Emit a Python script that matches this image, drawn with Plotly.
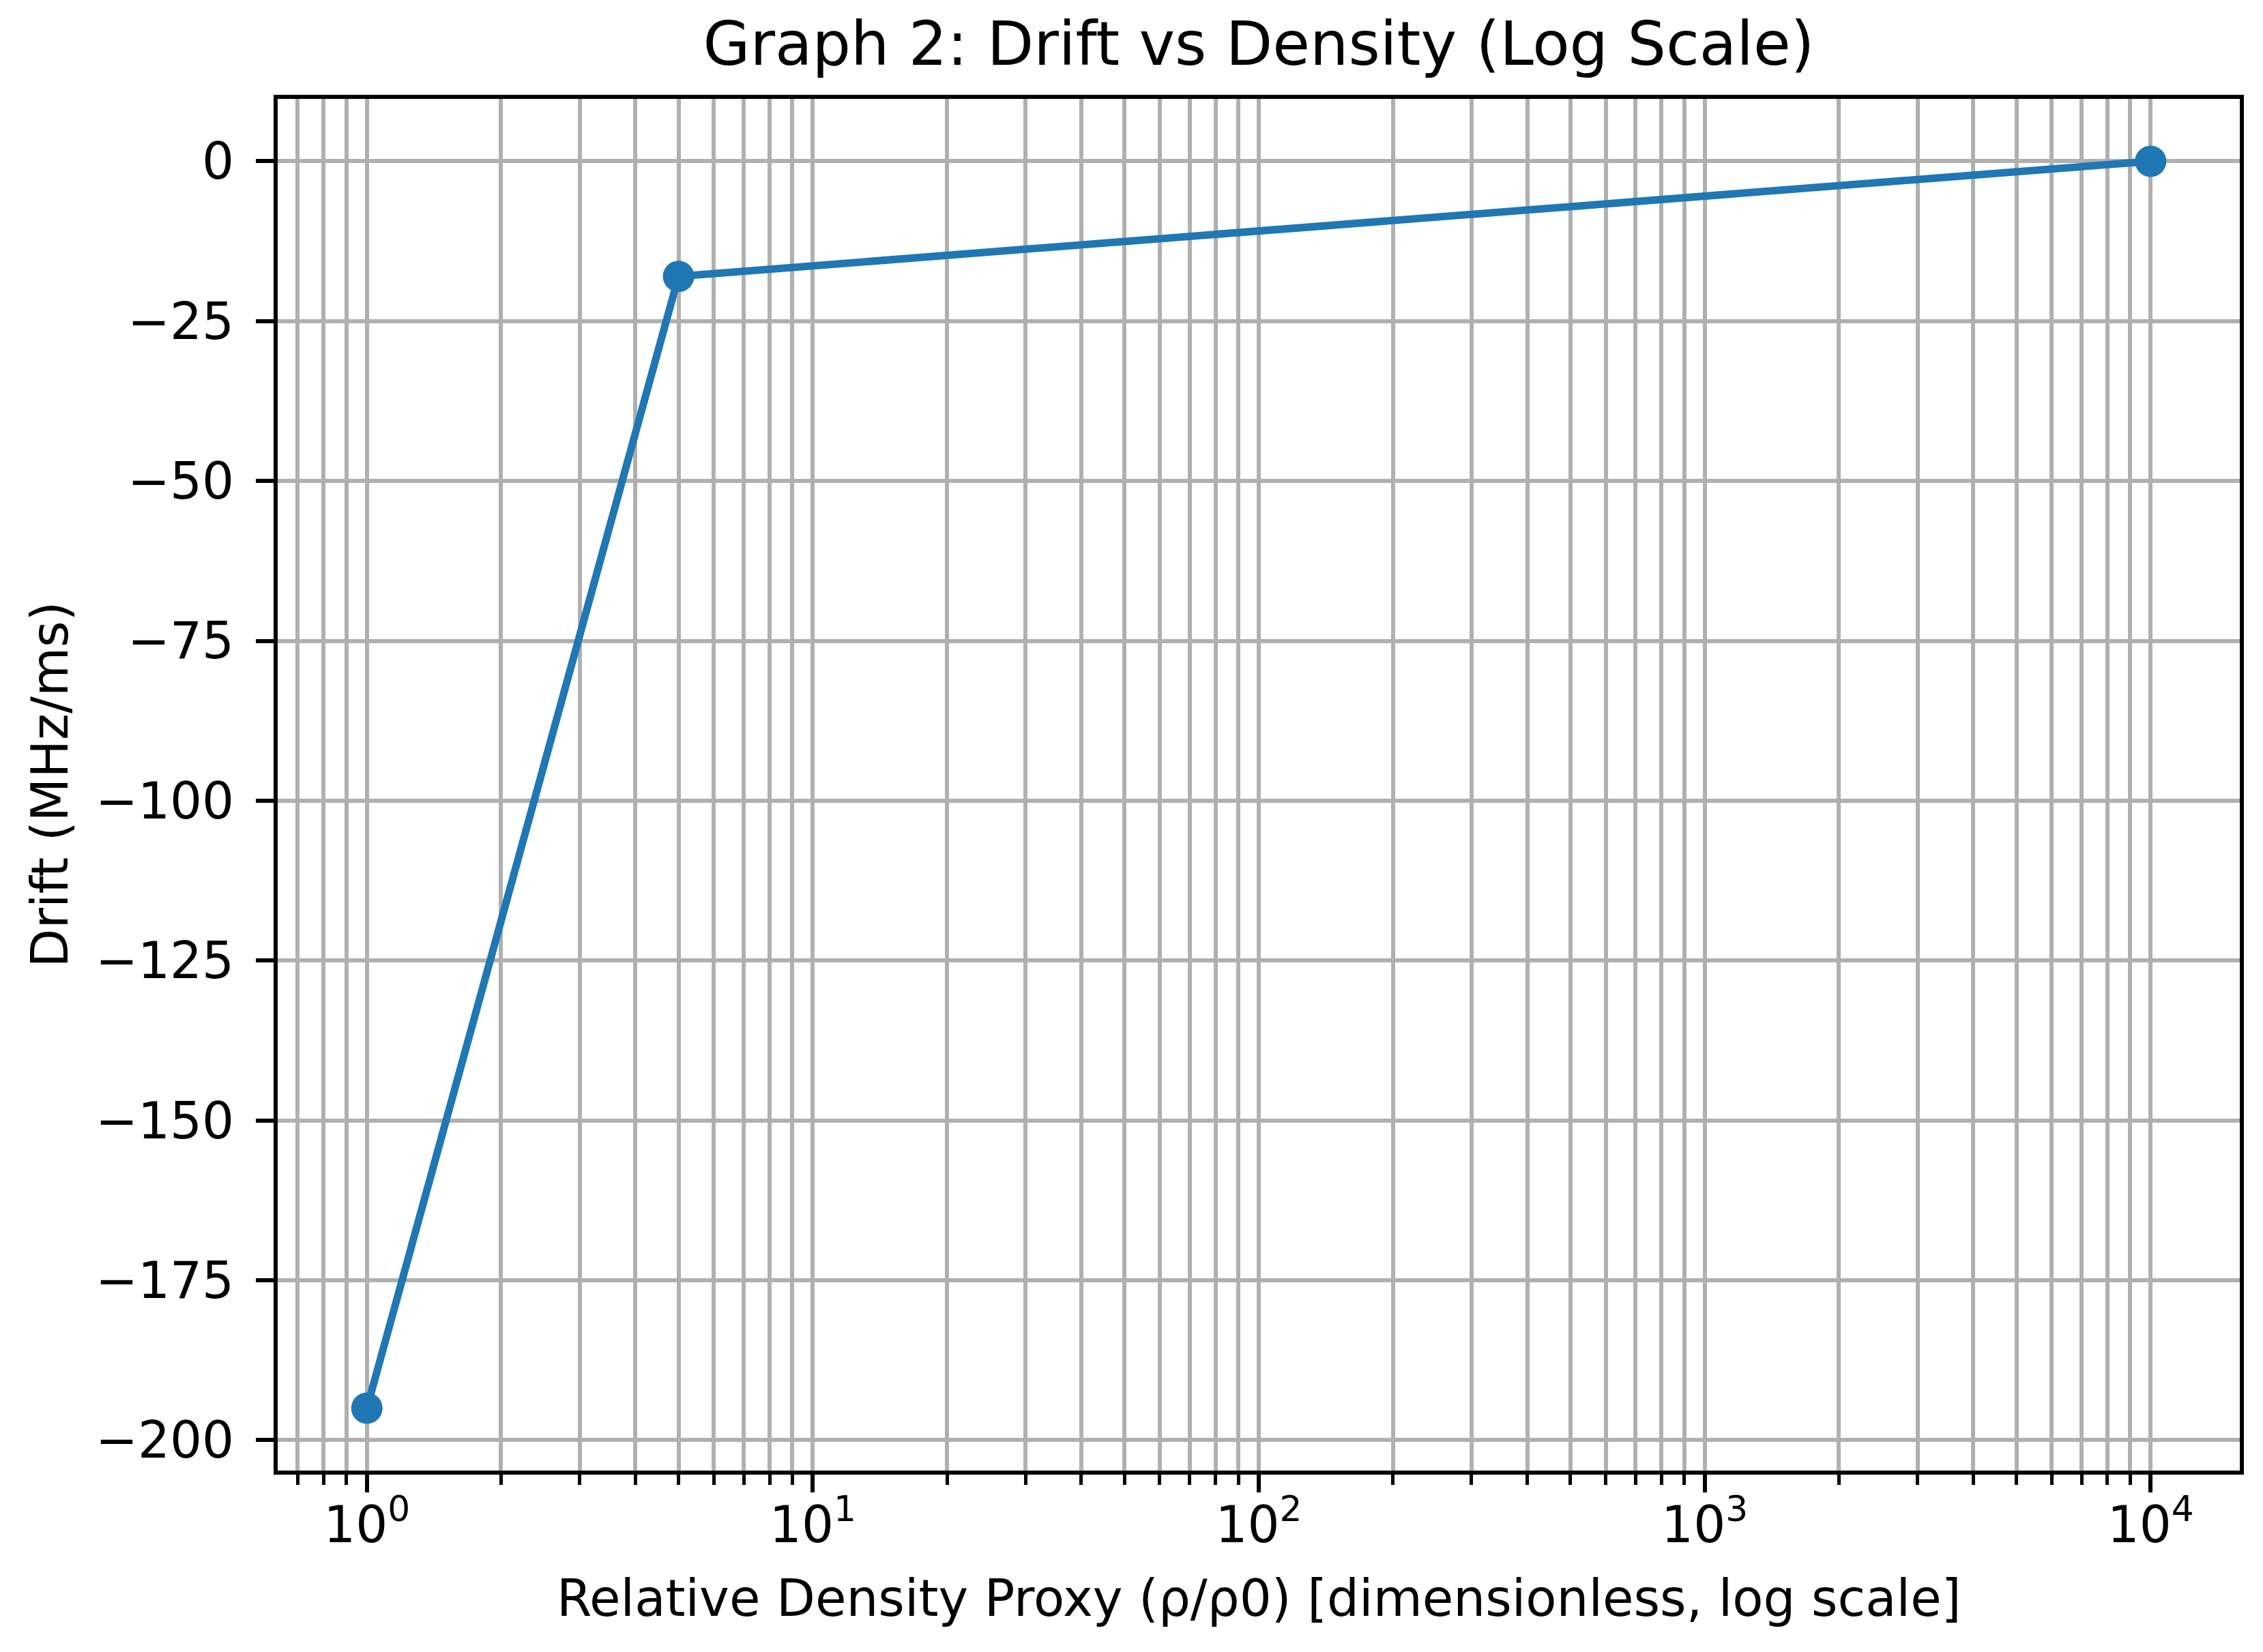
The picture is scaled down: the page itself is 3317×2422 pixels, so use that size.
import plotly.graph_objects as go
import math

# Data
density = [1, 5, 10000]
drift = [-195, -18, 0]

y_ticks = [0, -25, -50, -75, -100, -125, -150, -175, -200]
y_ticktext = ["0" if v == 0 else "\u2212" + str(abs(v)) for v in y_ticks]
x_ticks = [1, 10, 100, 1000, 10000]
x_ticktext = ["10<sup>0</sup>", "10<sup>1</sup>", "10<sup>2</sup>", "10<sup>3</sup>", "10<sup>4</sup>"]

title = "Graph 2: Drift vs Density (Log Scale)"
xlabel = "Relative Density Proxy (\u03c1/\u03c10) [dimensionless, log scale]"
ylabel = "Drift (MHz/ms)"

W, H = 3317, 2422
L, R, T, B = 399, 42, 137, 274
FONT = "DejaVu Sans"
FS = 74

# log ranges with 5% margins (matplotlib style)
lx = [math.log10(v) for v in density]
dx = (max(lx) - min(lx)) * 0.05
xr = [min(lx) - dx, max(lx) + dx]
dy = (max(drift) - min(drift)) * 0.05
yr = [min(drift) - dy, max(drift) + dy]

minor_vals = []
for e in range(-1, 5):
    for m in range(2, 10):
        v = m * 10 ** e
        if xr[0] <= math.log10(v) <= xr[1]:
            minor_vals.append(v)

fig = go.Figure()
fig.add_trace(go.Scatter(
    x=density, y=drift, mode="lines+markers",
    line=dict(color="#1f77b4", width=11),
    marker=dict(color="#1f77b4", size=46),
    showlegend=False,
))

fig.update_layout(
    width=W, height=H,
    margin=dict(l=L, r=R, t=T, b=B),
    paper_bgcolor="white", plot_bgcolor="white",
    font=dict(family=FONT, size=FS, color="black"),
    title=dict(text=title, x=(L + (W - R)) / 2 / W, xanchor="center",
               y=1 - 56 / H, yanchor="middle", yref="container",
               font=dict(family=FONT, size=89, color="black")),
    xaxis=dict(
        type="log", range=xr,
        tickmode="array", tickvals=x_ticks, ticktext=x_ticktext,
        ticks="outside", ticklen=26, tickwidth=6, tickcolor="black",
        showgrid=True, gridcolor="#b0b0b0", gridwidth=6,
        showline=True, linecolor="black", linewidth=6, mirror=True,
        zeroline=False, ticklabelstandoff=-16,
        tickfont=dict(family=FONT, size=FS, color="black"),
        minor=dict(tickmode="array", tickvals=minor_vals, ticks="outside",
                   ticklen=15, tickwidth=4.5, tickcolor="black",
                   showgrid=True, gridcolor="#b0b0b0", gridwidth=6),
    ),
    yaxis=dict(
        range=yr,
        tickmode="array", tickvals=y_ticks, ticktext=y_ticktext,
        ticks="outside", ticklen=26, tickwidth=6, tickcolor="black",
        showgrid=True, gridcolor="#b0b0b0", gridwidth=6,
        showline=True, linecolor="black", linewidth=6, mirror=True,
        zeroline=False, ticklabelstandoff=17,
        tickfont=dict(family=FONT, size=FS, color="black"),
    ),
    annotations=[
        dict(text=xlabel, xref="paper", yref="paper", x=0.5, xanchor="center",
             y=-(2335 - (H - B)) / (H - T - B), yanchor="middle", showarrow=False,
             font=dict(family=FONT, size=FS, color="black")),
        dict(text=ylabel, xref="paper", yref="paper", x=-(L - 64) / (W - L - R),
             xanchor="center", y=0.5, yanchor="middle", textangle=-90, showarrow=False,
             font=dict(family=FONT, size=FS, color="black")),
    ],
)

fig.write_html("out.html")
